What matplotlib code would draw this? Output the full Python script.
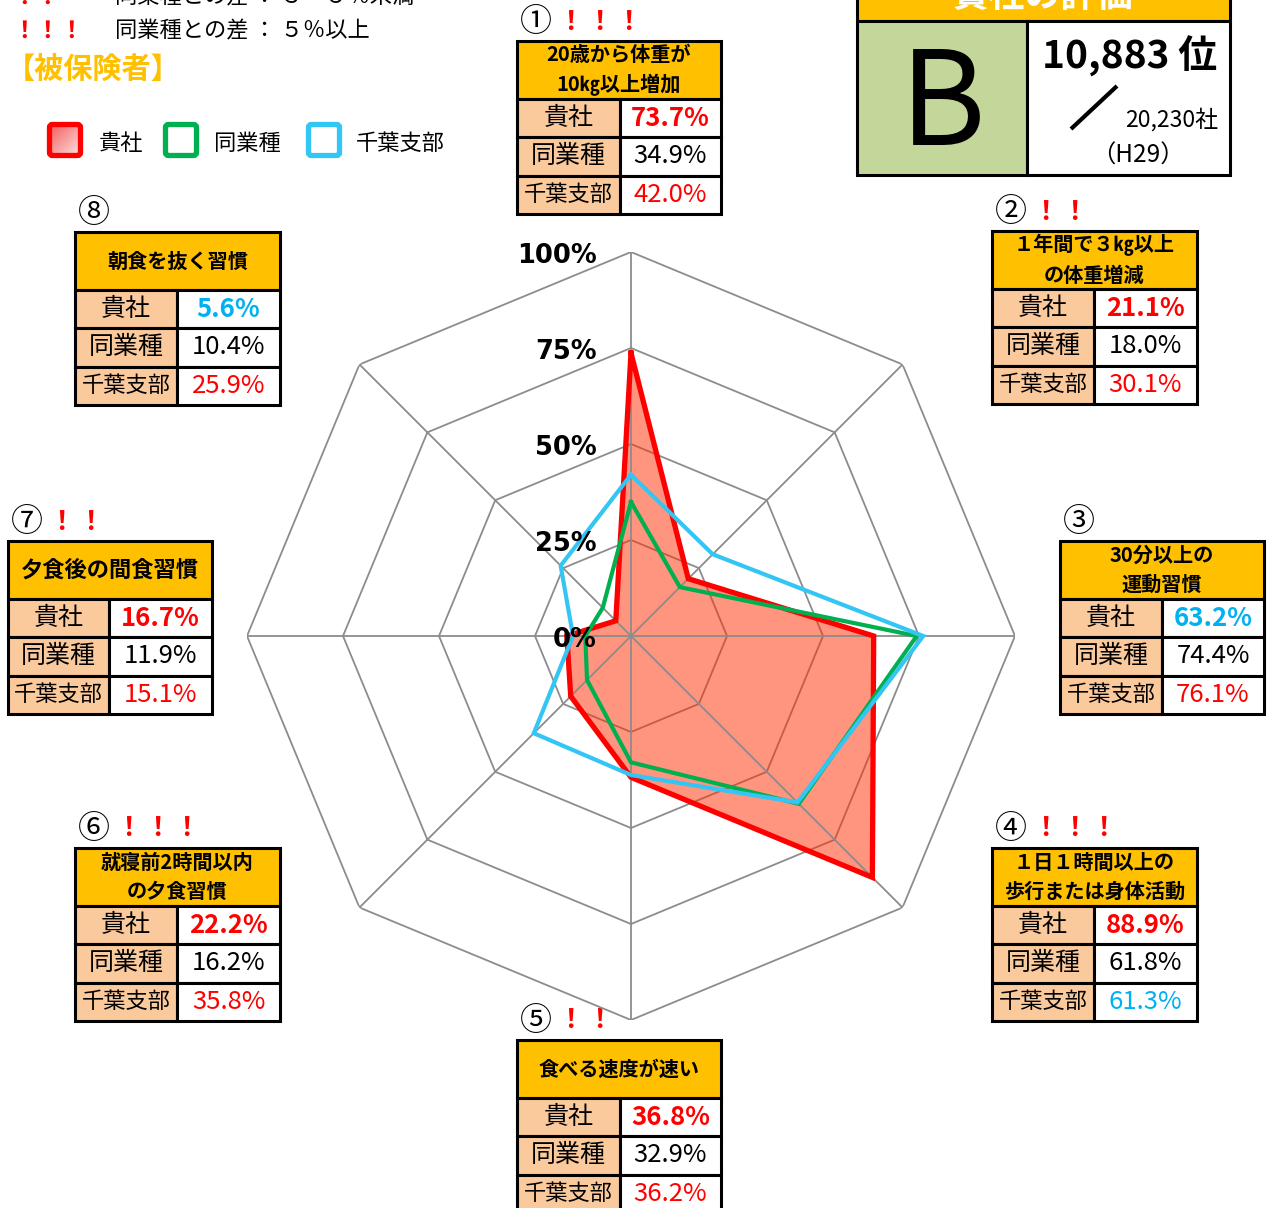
import numpy as np
import matplotlib.pyplot as plt
from matplotlib.patches import Rectangle, FancyBboxPatch
from matplotlib.colors import LinearSegmentedColormap

plt.rcParams['font.family'] = ['Noto Sans CJK JP', 'DejaVu Sans']

# データ
items = ['20歳から体重が\n10㎏以上増加', '１年間で３㎏以上\nの体重増減', '30分以上の\n運動習慣',
         '１日１時間以上の\n歩行または身体活動', '食べる速度が速い', '就寝前2時間以内\nの夕食習慣',
         '夕食後の間食習慣', '朝食を抜く習慣']
nums = ['①', '②', '③', '④', '⑤', '⑥', '⑦', '⑧']
kisha = [73.7, 21.1, 63.2, 88.9, 36.8, 22.2, 16.7, 5.6]
dogyo = [34.9, 18.0, 74.4, 61.8, 32.9, 16.2, 11.9, 10.4]
chiba = [42.0, 30.1, 76.1, 61.3, 36.2, 35.8, 15.1, 25.9]
marks = [3, 2, 0, 3, 2, 3, 2, 0]
kisha_col = ['r', 'r', 'b', 'r', 'r', 'r', 'r', 'b']
chiba_col = ['r', 'r', 'r', 'b', 'r', 'r', 'r', 'r']
row_names = ['貴社', '同業種', '千葉支部']
ticks = [0, 25, 50, 75, 100]
grade = 'B'
rank = '10,883'
total = '20,230'
year = 'H29'

RED = '#FF0000'
GREEN = '#00B050'
BLUE = '#33C6F4'
ORANGE = '#FFC000'
PEACH = '#FAC99C'
cmap_txt = {'r': RED, 'b': '#00B0F0'}

fig = plt.figure(figsize=(12.68, 12.08), dpi=100)
ov = fig.add_axes([0, 0, 1, 1])
ov.set_axis_off()

# 表の位置 (左, 上, 区切り, 右, 見出し文字サイズ)
layout = [(517, 41, 620, 721, 14.5), (992, 231, 1094, 1197, 14.5), (1060, 541, 1162, 1264, 14.5),
          (992, 848, 1094, 1197, 14.5), (517, 1040, 620, 721, 14.5), (75, 848, 177, 280, 14.5),
          (8, 541, 109, 212, 16), (75, 232, 177, 280, 14.5)]
hh, rh, lw = 58, 38.3, 2.2

for i, (x0, y0, xs, x1, hfs) in enumerate(layout):
    ov.add_patch(Rectangle((x0, y0), x1 - x0, hh, fc=ORANGE, ec='black', lw=lw, zorder=2))
    ov.text((x0 + x1) / 2, y0 + hh / 2, items[i], ha='center', va='center', fontsize=hfs,
            fontweight='bold', linespacing=1.5, zorder=3)
    vals = [kisha[i], dogyo[i], chiba[i]]
    for j in range(3):
        y = y0 + hh + j * rh
        ov.add_patch(Rectangle((x0, y), xs - x0, rh, fc=PEACH, ec='black', lw=lw, zorder=2))
        ov.add_patch(Rectangle((xs, y), x1 - xs, rh, fc='white', ec='black', lw=lw, zorder=2))
        ov.text((x0 + xs) / 2, y + rh / 2, row_names[j], ha='center', va='center',
                fontsize=16 if j == 2 else 18, zorder=3)
        if j == 0:
            c, fw = cmap_txt[kisha_col[i]], 'bold'
        elif j == 1:
            c, fw = 'black', 'normal'
        else:
            c, fw = cmap_txt[chiba_col[i]], 'normal'
        ov.text((xs + x1) / 2, y + rh / 2, f'{vals[j]:.1f}%', ha='center', va='center',
                fontsize=18.5, color=c, fontweight=fw, zorder=3)
    nx = x0 + 19
    ov.text(nx, y0 - 19, nums[i], ha='center', va='center', fontsize=23)
    for k in range(marks[i]):
        ov.text(nx + 34 + 29 * k, y0 - 19, '！', ha='center', va='center', fontsize=19,
                color=RED, fontweight='bold')

# 左上の説明
for k in range(2):
    ov.text(24 + 23.5 * k, -3, '！', ha='center', va='center', fontsize=17, color=RED, fontweight='bold')
ov.text(115, -3, '同業種との差 ： ３～５％未満', ha='left', va='center', fontsize=16)
for k in range(3):
    ov.text(24 + 23.5 * k, 31, '！', ha='center', va='center', fontsize=17, color=RED, fontweight='bold')
ov.text(115, 31, '同業種との差 ： ５％以上', ha='left', va='center', fontsize=16)
ov.text(6, 69, '【被保険者】', ha='left', va='center', fontsize=21, color=ORANGE, fontweight='bold')

# 凡例
grad = LinearSegmentedColormap.from_list('g', ['#F25A5A', '#FDE3E3'])
gx, gy = np.meshgrid(np.linspace(0, 1, 50), np.linspace(0, 1, 50))
ov.imshow((gx + gy) / 2, cmap=grad, extent=(49, 81, 156, 124), aspect='auto', zorder=1)
for x, c in [(47, RED), (163, GREEN), (306, BLUE)]:
    ov.add_patch(FancyBboxPatch((x + 2.5, 124.5), 31, 31, boxstyle='round,pad=0,rounding_size=3',
                                fc='none', ec=c, lw=3.8, zorder=2))
ov.text(99, 143, '貴社', ha='left', va='center', fontsize=16)
ov.text(214, 143, '同業種', ha='left', va='center', fontsize=16)
ov.text(356, 143, '千葉支部', ha='left', va='center', fontsize=16)

# 貴社の評価
ov.add_patch(Rectangle((857, -30), 373, 51, fc=ORANGE, ec='black', lw=lw, zorder=2))
ov.text(1043, -4, '貴社の評価', ha='center', va='center', fontsize=26, color='white',
        fontweight='bold', zorder=3)
ov.add_patch(Rectangle((857, 21), 170, 154, fc='#C4D79B', ec='black', lw=lw, zorder=2))
ov.add_patch(Rectangle((1027, 21), 203, 154, fc='white', ec='black', lw=lw, zorder=2))
ov.text(943, 108, grade, ha='center', va='center', fontsize=94, zorder=3)
ov.text(1130, 56, f'{rank} 位', ha='center', va='center', fontsize=28, fontweight='bold', zorder=3)
ov.plot([1071, 1117], [129, 86], color='black', lw=3, solid_capstyle='butt', zorder=3)
ov.text(1172, 120, f'{total}社', ha='center', va='center', fontsize=16.5, zorder=3)
ov.text(1138, 156, f'（{year}）', ha='center', va='center', fontsize=17.5, zorder=3)

ov.set_xlim(0, 1268)
ov.set_ylim(1208, 0)

# レーダーチャート
W, H = 1268, 1208
cx, cy, R = 631, 636, 384
ax = fig.add_axes([(cx - R) / W, (H - cy - R) / H, 2 * R / W, 2 * R / H], projection='polar')
ax.set_theta_zero_location('N')
ax.set_theta_direction(-1)
ax.set_ylim(0, 100)
ax.set_axis_off()
ax.patch.set_alpha(0)

theta = np.arange(8) * 2 * np.pi / 8
tc = np.append(theta, theta[0])
for t in ticks[1:]:
    ax.plot(tc, [t] * 9, color='#8C8C8C', lw=1.3, zorder=1)
for t in theta:
    ax.plot([t, t], [0, 100], color='#8C8C8C', lw=1.3, zorder=2.5)

def closed(v):
    return np.append(v, v[0])

ax.fill(tc, closed(kisha), color='#FF2D00', alpha=0.5, lw=0, zorder=2)
ax.plot(tc, closed(kisha), color=RED, lw=3.8, solid_joinstyle='miter', zorder=3)
ax.plot(tc, closed(dogyo), color=GREEN, lw=3.0, solid_joinstyle='miter', zorder=4)
ax.plot(tc, closed(chiba), color=BLUE, lw=3.0, solid_joinstyle='miter', zorder=5)

for t in ticks:
    ax.annotate(f'{t}%', xy=(0, t), xytext=(-34, -4), textcoords='offset pixels', ha='right',
                va='center', fontsize=18.5, fontweight='bold', family='DejaVu Sans',
                zorder=6, annotation_clip=False)

fig.savefig('out.png', dpi=100)
